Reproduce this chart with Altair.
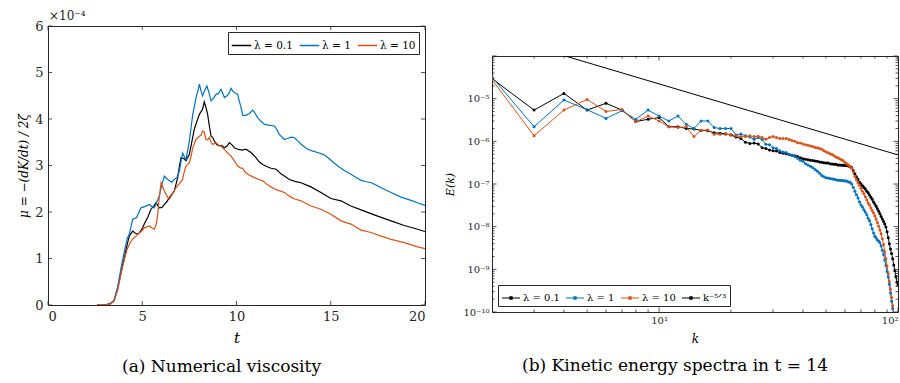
import altair as alt
import pandas as pd

FONT = "DejaVu Serif"
AX = "#262626"

# ---------------- panel (a): numerical viscosity (units of 1e-4) ----------------
t_black = [2.6, 3.0, 3.3, 3.5, 3.7, 3.9, 4.05, 4.2, 4.31, 4.49, 4.62, 4.76, 4.9, 5.02, 5.15, 5.29,
           5.46, 5.6, 5.73, 5.9, 6.05, 6.17, 6.3, 6.44, 6.57, 6.7, 6.88, 6.97, 7.06, 7.2, 7.32,
           7.5, 7.65, 7.76, 7.9, 8.03, 8.2, 8.29, 8.38, 8.47, 8.56, 8.65, 8.74, 8.82, 8.95, 9.09,
           9.2, 9.36, 9.5, 9.62, 9.75, 9.89, 10.06, 10.3, 10.5, 10.77, 11.03, 11.2, 11.39, 11.6,
           11.83, 12.1, 12.36, 12.6, 12.8, 13.1, 13.42, 13.95, 14.48, 15.01, 15.54, 16.07, 16.78,
           17.49, 18.2, 18.9, 19.61, 20.0]
mu_black = [0.0, 0.0, 0.03, 0.09, 0.35, 0.75, 1.02, 1.30, 1.48, 1.59, 1.55, 1.52, 1.58, 1.66, 1.78, 1.88,
            2.06, 2.12, 2.20, 2.09, 2.10, 2.16, 2.22, 2.31, 2.38, 2.45, 2.74, 2.98, 3.17, 3.15, 3.10,
            3.24, 3.55, 3.78, 3.95, 4.10, 4.21, 4.37, 4.25, 4.10, 3.85, 3.63, 3.60, 3.53, 3.45, 3.42,
            3.43, 3.38, 3.42, 3.49, 3.45, 3.38, 3.35, 3.33, 3.35, 3.28, 3.17, 3.08, 3.02, 2.98,
            2.94, 2.92, 2.82, 2.76, 2.70, 2.66, 2.63, 2.54, 2.42, 2.29, 2.24, 2.13, 2.02,
            1.91, 1.81, 1.71, 1.63, 1.58]

t_blue = [2.6, 3.0, 3.3, 3.5, 3.7, 3.9, 4.05, 4.2, 4.31, 4.49, 4.7, 4.93, 5.15, 5.38, 5.5, 5.64, 5.9,
          6.05, 6.17, 6.3, 6.44, 6.57, 6.7, 6.85, 6.97, 7.06, 7.14, 7.22, 7.32, 7.4, 7.5, 7.6, 7.68,
          7.78, 7.85, 7.95, 8.03, 8.12, 8.2, 8.3, 8.43, 8.55, 8.65, 8.78, 8.91, 9.05, 9.18, 9.27,
          9.36, 9.5, 9.6, 9.71, 9.8, 9.89, 10.06, 10.15, 10.24, 10.33, 10.5, 10.68, 10.86, 10.95,
          11.12, 11.3, 11.47, 11.7, 12.0, 12.1, 12.27, 12.54, 12.7, 12.89, 13.05, 13.25, 13.5,
          13.78, 14.05, 14.3, 14.6, 14.84, 15.1, 15.37, 15.7, 16.07, 16.35, 16.6, 16.9, 17.14,
          17.4, 17.67, 18.2, 18.73, 19.26, 19.6, 20.0]
mu_blue = [0.0, 0.0, 0.03, 0.10, 0.40, 0.85, 1.15, 1.42, 1.52, 1.84, 1.88, 2.09, 2.12, 2.16, 2.12, 2.09, 2.34,
           2.60, 2.77, 2.72, 2.67, 2.64, 2.70, 2.75, 2.88, 3.10, 3.27, 3.20, 3.13, 3.30, 3.53, 3.85, 4.10,
           4.30, 4.46, 4.60, 4.75, 4.60, 4.50, 4.60, 4.71, 4.55, 4.39, 4.45, 4.53, 4.55, 4.64, 4.55,
           4.46, 4.50, 4.55, 4.66, 4.60, 4.57, 4.53, 4.38, 4.25, 4.08, 4.08, 4.12, 4.19, 4.15,
           4.03, 3.95, 3.89, 3.87, 3.85, 3.80, 3.67, 3.56, 3.58, 3.61, 3.60, 3.53, 3.43,
           3.35, 3.31, 3.28, 3.24, 3.17, 3.08, 2.99, 2.90, 2.81, 2.74, 2.68, 2.65, 2.63,
           2.58, 2.52, 2.42, 2.32, 2.25, 2.20, 2.14]

t_orange = [2.6, 2.7, 3.0, 3.3, 3.5, 3.7, 3.9, 4.05, 4.2, 4.31, 4.45, 4.58, 4.84, 5.0, 5.11, 5.25, 5.38,
            5.5, 5.64, 5.75, 5.82, 5.9, 6.0, 6.08, 6.17, 6.35, 6.45, 6.53, 6.65, 6.79, 6.95, 7.14,
            7.22, 7.32, 7.5, 7.6, 7.68, 7.85, 8.03, 8.12, 8.2, 8.29, 8.38, 8.47, 8.56, 8.65, 8.74,
            8.91, 9.05, 9.18, 9.3, 9.44, 9.58, 9.71, 9.89, 10.06, 10.2, 10.33, 10.45, 10.6, 10.94,
            11.2, 11.39, 11.6, 11.83, 12.0, 12.19, 12.54, 12.7, 12.89, 13.1, 13.42, 13.95, 14.48,
            15.01, 15.54, 16.07, 16.6, 17.14, 17.67, 18.2, 18.9, 19.61, 20.0]
mu_orange = [0.0, 0.01, 0.0, 0.02, 0.08, 0.33, 0.72, 0.98, 1.20, 1.30, 1.40, 1.45, 1.55, 1.60, 1.66, 1.68, 1.70,
             1.66, 1.63, 1.75, 1.95, 2.30, 2.63, 2.55, 2.45, 2.31, 2.28, 2.34, 2.42, 2.52, 2.60, 2.70,
             2.85, 2.99, 3.06, 3.22, 3.38, 3.56, 3.63, 3.65, 3.74, 3.72, 3.56, 3.55, 3.60, 3.50, 3.45,
             3.49, 3.44, 3.42, 3.37, 3.31, 3.25, 3.20, 3.10, 2.99, 2.95, 2.94, 2.86, 2.81, 2.74,
             2.70, 2.67, 2.60, 2.54, 2.50, 2.47, 2.42, 2.37, 2.32, 2.28, 2.24, 2.13, 2.06,
             1.95, 1.81, 1.74, 1.61, 1.56, 1.48, 1.41, 1.34, 1.25, 1.21]

lam_labels = ["λ = 0.1", "λ = 1", "λ = 10"]
lam_colors = ["#000000", "#0072BD", "#D95319"]
a_xticks = [0, 5, 10, 15, 20]
a_yticks = [0, 1, 2, 3, 4, 5, 6]

# ---------------- panel (b): kinetic energy spectra at t = 14 ----------------
k_black = list(range(2, 101))
E_black = [2.95e-5, 5.4e-6, 1.33e-5, 5.4e-6, 7.8e-6, 5.4e-6, 2.9e-6, 3.3e-6, 3.6e-6, 2.2e-6,
           2.2e-6, 2.0e-6, 1.95e-6, 1.8e-6, 1.78e-6, 1.58e-6, 1.55e-6, 1.5e-6, 1.4e-6, 1.26e-6,
           1.17e-6, 9.5e-7, 8.9e-7, 9.1e-7, 8.7e-7, 7.1e-7, 6.8e-7, 6.3e-7, 6.0e-7, 5.9e-7,
           5.5e-7, 5.25e-7, 5.1e-7, 4.9e-7, 4.7e-7, 4.6e-7, 4.4e-7, 4.1e-7, 3.9e-7, 3.8e-7,
           3.7e-7, 3.6e-7, 3.55e-7, 3.45e-7, 3.4e-7, 3.3e-7, 3.25e-7, 3.15e-7, 3.1e-7, 3.1e-7,
           3.0e-7, 2.95e-7, 2.9e-7, 2.9e-7, 2.8e-7, 2.8e-7, 2.75e-7, 2.75e-7, 2.7e-7, 2.7e-7,
           2.65e-7, 2.55e-7, 2.45e-7, 2.04e-7, 1.74e-7, 1.48e-7, 1.29e-7, 1.1e-7, 1.0e-7, 9.1e-8,
           8.3e-8, 7.6e-8, 6.8e-8, 6.2e-8, 5.5e-8, 4.9e-8, 4.4e-8, 3.8e-8, 3.4e-8, 3.0e-8,
           2.63e-8, 2.29e-8, 2.0e-8, 1.74e-8, 1.51e-8, 1.32e-8, 1.15e-8, 9.8e-9, 7.6e-9, 5.5e-9,
           4.0e-9, 3.0e-9, 2.34e-9, 1.78e-9, 1.26e-9, 9.3e-10, 6.8e-10, 5.0e-10, 4.3e-10]

k_blue = list(range(2, 97))
E_blue = [3.2e-5, 2.2e-6, 9.3e-6, 5.5e-6, 3.45e-6, 5.2e-6, 3.3e-6, 5.4e-6, 3.9e-6, 3.0e-6,
          3.9e-6, 2.5e-6, 2.0e-6, 3.0e-6, 3.0e-6, 2.1e-6, 2.0e-6, 2.0e-6, 2.0e-6, 1.41e-6,
          1.48e-6, 1.35e-6, 1.26e-6, 1.12e-6, 1.23e-6, 1.1e-6, 8.5e-7, 8.3e-7, 7.1e-7, 6.8e-7,
          6.0e-7, 5.6e-7, 5.5e-7, 5.0e-7, 4.7e-7, 4.4e-7, 4.0e-7, 3.6e-7, 3.4e-7, 3.0e-7,
          2.8e-7, 2.6e-7, 2.4e-7, 2.2e-7, 2.0e-7, 1.78e-7, 1.58e-7, 1.48e-7, 1.41e-7, 1.38e-7,
          1.35e-7, 1.32e-7, 1.29e-7, 1.26e-7, 1.23e-7, 1.23e-7, 1.2e-7, 1.2e-7, 1.17e-7, 1.17e-7,
          1.12e-7, 1.1e-7, 1.0e-7, 8.3e-8, 6.8e-8, 5.6e-8, 4.7e-8, 3.8e-8, 3.2e-8, 2.9e-8,
          2.5e-8, 2.2e-8, 1.9e-8, 1.58e-8, 1.38e-8, 1.12e-8, 8.9e-9, 7.1e-9, 6.0e-9, 5.4e-9,
          4.9e-9, 4.6e-9, 4.2e-9, 3.5e-9, 2.8e-9, 2.24e-9, 1.66e-9, 1.23e-9, 8.9e-10, 6.6e-10,
          4.5e-10, 2.8e-10, 1.78e-10, 1.2e-10, 7.9e-11]

k_orange = list(range(2, 97))
E_orange = [2.8e-5, 1.35e-6, 5.4e-6, 9.6e-6, 5.0e-6, 5.6e-6, 2.9e-6, 3.9e-6, 3.0e-6, 2.2e-6,
            2.1e-6, 2.2e-6, 1.29e-6, 1.82e-6, 1.85e-6, 1.47e-6, 1.47e-6, 1.47e-6, 1.45e-6, 1.35e-6,
            1.29e-6, 1.29e-6, 1.35e-6, 1.29e-6, 1.32e-6, 1.23e-6, 1.12e-6, 1.23e-6, 1.29e-6, 1.23e-6,
            1.17e-6, 1.17e-6, 1.17e-6, 1.1e-6, 1.05e-6, 1.0e-6, 9.3e-7, 9.1e-7, 8.7e-7, 8.3e-7,
            8.1e-7, 7.8e-7, 7.6e-7, 7.2e-7, 7.1e-7, 6.8e-7, 6.5e-7, 6.0e-7, 5.6e-7, 5.4e-7,
            5.1e-7, 4.9e-7, 4.6e-7, 4.3e-7, 4.1e-7, 3.9e-7, 3.7e-7, 3.5e-7, 3.2e-7, 3.0e-7,
            2.8e-7, 2.6e-7, 2.35e-7, 1.9e-7, 1.51e-7, 1.26e-7, 1.07e-7, 9.3e-8, 7.9e-8, 6.8e-8,
            5.9e-8, 5.0e-8, 4.3e-8, 3.6e-8, 3.2e-8, 2.75e-8, 2.4e-8, 2.1e-8, 1.78e-8, 1.51e-8,
            1.26e-8, 1.02e-8, 8.3e-9, 6.8e-9, 5.2e-9, 3.8e-9, 2.6e-9, 1.78e-9, 1.2e-9, 7.9e-10,
            5.2e-10, 3.4e-10, 2.2e-10, 1.41e-10, 8.9e-11]

k_ref = [2, 100]
E_ref = [3.24e-4, 4.8e-7]

spec_labels = ["λ = 0.1", "λ = 1", "λ = 10", "k⁻⁵ᐟ³"]
spec_colors = ["#000000", "#0072BD", "#D95319", "#000000"]
b_xmajor = [10, 100]
b_xminor = [3, 4, 5, 6, 7, 8, 9, 20, 30, 40, 50, 60, 70, 80, 90]
b_ymajor = [1e-10, 1e-9, 1e-8, 1e-7, 1e-6, 1e-5, 1e-4]
b_ymant = [2, 3, 4, 5, 6, 7, 8, 9]
b_yminor = [m * d for d in b_ymajor[:-1] for m in b_ymant]

# ============================ panel (a) ============================
W1, H1 = 377, 279
df_a = pd.concat([
    pd.DataFrame({"t": t_black, "mu": mu_black, "lam": lam_labels[0]}),
    pd.DataFrame({"t": t_blue, "mu": mu_blue, "lam": lam_labels[1]}),
    pd.DataFrame({"t": t_orange, "mu": mu_orange, "lam": lam_labels[2]}),
], ignore_index=True)

xs_a = alt.Scale(domain=[0, 20], nice=False, zero=False)
ys_a = alt.Scale(domain=[0, 6], nice=False)
ax_a = alt.Axis(values=a_xticks, title="t", titleFontStyle="italic", titleFontSize=15,
                titleFontWeight="normal", labelFontSize=13, labelPadding=5,
                titleX=W1 / 2, titleY=32, titleBaseline="middle")
ay_a = alt.Axis(values=a_yticks, title="μ = −(dK/dt) / 2ζ", titleFontStyle="italic",
                titleFontSize=12, titleFontWeight="normal", labelFontSize=13, labelPadding=5,
                titleX=-25, titleY=H1 / 2, titleBaseline="middle")

lines_a = alt.Chart(df_a).mark_line(strokeWidth=1.2, clip=True).encode(
    x=alt.X("t:Q", scale=xs_a, axis=ax_a),
    y=alt.Y("mu:Q", scale=ys_a, axis=ay_a),
    color=alt.Color("lam:N", scale=alt.Scale(domain=lam_labels, range=lam_colors),
                    legend=alt.Legend(title=None, orient="top-right", direction="horizontal",
                                      offset=6, padding=3, strokeColor=AX, fillColor="white",
                                      symbolType="stroke", symbolSize=380, symbolStrokeWidth=1.5,
                                      labelFont=FONT, labelFontSize=10.5, labelColor="black",
                                      columnPadding=3, labelOffset=2)),
)

tx_a = pd.DataFrame({"t": a_xticks})
ty_a = pd.DataFrame({"mu": a_yticks})
tick = dict(color=AX, strokeWidth=0.8)
ticks_a = [
    alt.Chart(tx_a).mark_rule(**tick).encode(x=alt.X("t:Q", scale=xs_a, axis=ax_a),
                                             y=alt.value(H1), y2=alt.value(H1 - 4)),
    alt.Chart(tx_a).mark_rule(**tick).encode(x=alt.X("t:Q", scale=xs_a, axis=ax_a),
                                             y=alt.value(0), y2=alt.value(4)),
    alt.Chart(ty_a).mark_rule(**tick).encode(y=alt.Y("mu:Q", scale=ys_a, axis=ay_a),
                                             x=alt.value(0), x2=alt.value(4)),
    alt.Chart(ty_a).mark_rule(**tick).encode(y=alt.Y("mu:Q", scale=ys_a, axis=ay_a),
                                             x=alt.value(W1), x2=alt.value(W1 - 4)),
]

one = pd.DataFrame({"z": [0]})
expo = alt.Chart(one).mark_text(text="×10⁻⁴", align="left", baseline="alphabetic",
                                font=FONT, fontSize=12, color=AX).encode(
    x=alt.value(1), y=alt.value(-6))
mark_a1 = alt.Chart(one).mark_rule(color="white", opacity=0).encode(
    x=alt.value(-47), x2=alt.value(-47), y=alt.value(-25), y2=alt.value(-24))
mark_a2 = alt.Chart(one).mark_rule(color="white", opacity=0).encode(
    x=alt.value(W1 + 10), x2=alt.value(W1 + 10), y=alt.value(10), y2=alt.value(11))

panel_a = alt.layer(lines_a, *ticks_a, expo, mark_a1, mark_a2).properties(
    width=W1, height=H1,
    title=alt.TitleParams("(a) Numerical viscosity", orient="bottom", anchor="middle",
                          offset=14, dx=-15, font=FONT, fontSize=17, fontWeight="normal",
                          color="black"),
)

# ============================ panel (b) ============================
W2, H2 = 406, 256
df_b = pd.concat([
    pd.DataFrame({"k": k_black, "E": E_black, "series": spec_labels[0]}),
    pd.DataFrame({"k": k_blue, "E": E_blue, "series": spec_labels[1]}),
    pd.DataFrame({"k": k_orange, "E": E_orange, "series": spec_labels[2]}),
], ignore_index=True)
df_ref = pd.DataFrame({"k": k_ref, "E": E_ref, "series": spec_labels[3]})

xs_b = alt.Scale(type="log", domain=[2, 100], nice=False)
ys_b = alt.Scale(type="log", domain=[1e-10, 1e-4], nice=False)
sup = ("{'-10':'⁻¹⁰','-9':'⁻⁹','-8':'⁻⁸','-7':'⁻⁷','-6':'⁻⁶','-5':'⁻⁵','-4':'⁻⁴',"
       "'1':'¹','2':'²'}[''+round(log(datum.value)/LN10)]")
ax_b = alt.Axis(values=b_xmajor, labelExpr="'10' + " + sup, title="k", titleFontStyle="italic",
                titleFontSize=12, titleFontWeight="normal", labelFontSize=10, labelPadding=3,
                labelFlush=True, titleX=W2 / 2, titleY=26, titleBaseline="middle")
ay_b = alt.Axis(values=b_ymajor[:-1], labelExpr="'10' + " + sup, title="E(k)",
                titleFontStyle="italic", titleFontSize=11, titleFontWeight="normal",
                labelFontSize=10, labelPadding=3, titleX=-42, titleY=H2 / 2,
                titleBaseline="middle")
col_b = alt.Color("series:N", scale=alt.Scale(domain=spec_labels, range=spec_colors),
                  legend=alt.Legend(title=None, orient="bottom-left", direction="horizontal",
                                    offset=6, padding=3, strokeColor=AX, fillColor="white",
                                    symbolType="M-1,0H1M-0.12,-0.12H0.12V0.12H-0.12Z",
                                    symbolSize=324, symbolStrokeWidth=1.2,
                                    labelFont=FONT, labelFontSize=10, labelColor="black",
                                    columnPadding=3, labelOffset=2))

lines_b = alt.Chart(df_b).mark_line(strokeWidth=1, clip=True).encode(
    x=alt.X("k:Q", scale=xs_b, axis=ax_b), y=alt.Y("E:Q", scale=ys_b, axis=ay_b), color=col_b)
pts_b = alt.Chart(df_b).transform_filter("datum.E >= 1e-10").mark_point(
    filled=True, size=9, opacity=1, clip=True).encode(
    x=alt.X("k:Q", scale=xs_b, axis=ax_b), y=alt.Y("E:Q", scale=ys_b, axis=ay_b), color=col_b)
ref_b = alt.Chart(df_ref).mark_line(strokeWidth=1, clip=True).encode(
    x=alt.X("k:Q", scale=xs_b, axis=ax_b), y=alt.Y("E:Q", scale=ys_b, axis=ay_b), color=col_b)

def xticks_b(vals, ln):
    d = pd.DataFrame({"k": vals})
    xe = alt.X("k:Q", scale=xs_b, axis=ax_b)
    return [
        alt.Chart(d).mark_rule(**tick).encode(x=xe, y=alt.value(H2), y2=alt.value(H2 - ln)),
        alt.Chart(d).mark_rule(**tick).encode(x=xe, y=alt.value(0), y2=alt.value(ln)),
    ]

def yticks_b(vals, ln):
    d = pd.DataFrame({"E": vals})
    ye = alt.Y("E:Q", scale=ys_b, axis=ay_b)
    return [
        alt.Chart(d).mark_rule(**tick).encode(y=ye, x=alt.value(0), x2=alt.value(ln)),
        alt.Chart(d).mark_rule(**tick).encode(y=ye, x=alt.value(W2), x2=alt.value(W2 - ln)),
    ]

ticks_b = xticks_b(b_xmajor, 4.5) + xticks_b(b_xminor, 2.5) + \
          yticks_b(b_ymajor, 4.5) + yticks_b(b_yminor, 2.5)

mark_b = alt.Chart(one).mark_rule(color="white", opacity=0).encode(
    x=alt.value(-55), x2=alt.value(-55), y=alt.value(20), y2=alt.value(21))

panel_b = alt.layer(lines_b, ref_b, pts_b, *ticks_b, mark_b).properties(
    width=W2, height=H2,
    title=alt.TitleParams("(b) Kinetic energy spectra in t = 14", orient="bottom",
                          anchor="middle", offset=14, dx=-20, font=FONT, fontSize=17,
                          fontWeight="normal", color="black"),
)

# empty spacer that pushes panel (b) down relative to panel (a)
spacer = alt.Chart(one).mark_rule(color="white", opacity=0).encode(
    x=alt.value(0), x2=alt.value(1), y=alt.value(0)
).properties(width=W2, height=28.5, view=alt.ViewBackground(stroke="transparent"))

right_col = alt.vconcat(spacer, panel_b, spacing=0).resolve_scale(
    color="independent").resolve_legend(color="independent")

chart = alt.hconcat(panel_a, right_col, spacing=0).resolve_scale(
    color="independent").resolve_legend(color="independent").properties(
    padding=0, background="white"
).configure_view(stroke=AX, strokeWidth=1).configure_axis(
    labelFont=FONT, titleFont=FONT, labelColor=AX, titleColor="black",
    ticks=False, domain=False, grid=False
).configure_legend(cornerRadius=0)

chart.save("out.html", embed_options={"renderer": "svg", "actions": False})
